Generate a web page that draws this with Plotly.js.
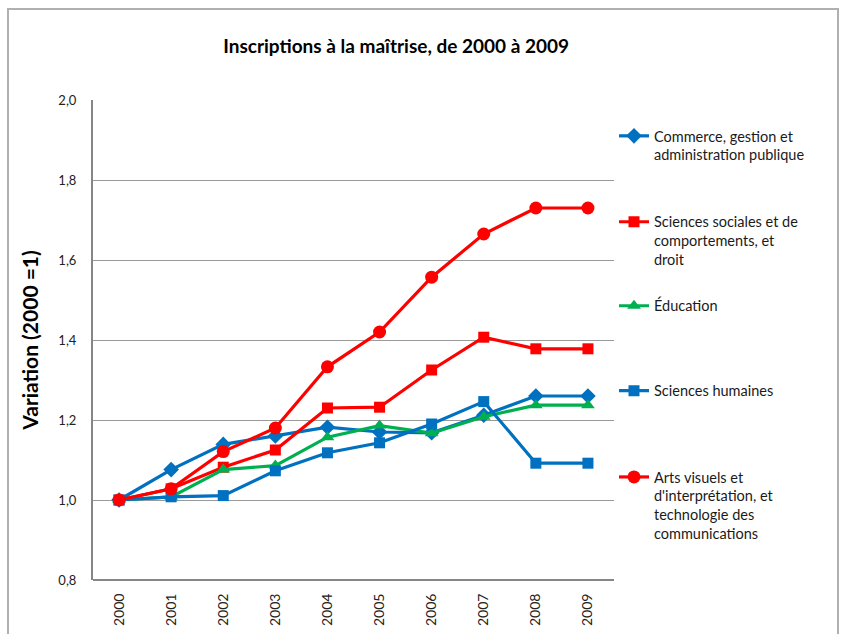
<!DOCTYPE html>
<html>
<head>
<meta charset="utf-8">
<script src="https://cdn.plot.ly/plotly-3.0.1.min.js"></script>
<style>html,body{margin:0;padding:0;background:#fff;}#chart{width:841px;height:634px;}</style>
</head>
<body>
<div id="chart"></div>
<script>
var years = ["2000","2001","2002","2003","2004","2005","2006","2007","2008","2009"];
var commerce = [1.000, 1.076, 1.139, 1.160, 1.182, 1.170, 1.168, 1.212, 1.260, 1.260];
var sociales = [1.000, 1.028, 1.082, 1.125, 1.230, 1.232, 1.325, 1.407, 1.378, 1.378];
var education = [1.000, 1.008, 1.076, 1.086, 1.157, 1.186, 1.167, 1.208, 1.237, 1.237];
var humaines = [1.000, 1.008, 1.011, 1.073, 1.118, 1.143, 1.190, 1.246, 1.092, 1.092];
var arts = [1.000, 1.028, 1.121, 1.180, 1.333, 1.420, 1.557, 1.665, 1.730, 1.730];
var names = [
  "Commerce, gestion et<br>administration publique",
  "Sciences sociales et de<br>comportements, et<br>droit",
  "Éducation",
  "Sciences humaines",
  "Arts visuels et<br>d'interprétation, et<br>technologie des<br>communications"
];
var yTicks = [0.8, 1.0, 1.2, 1.4, 1.6, 1.8, 2.0];
var yTickText = ["0,8", "1,0", "1,2", "1,4", "1,6", "1,8", "2,0"];

var blue = "#0070C0", red = "#FF0000", green = "#00B050";
function tr(y, name, color, symbol, size, leg) {
  return {x: years, y: y, name: name, type: "scatter", mode: "lines+markers",
    line: {color: color, width: 3.2}, marker: {symbol: symbol, size: size, color: color},
    legend: leg};
}
var data = [
  tr(commerce, names[0], blue, "diamond", 12, "legend"),
  tr(sociales, names[1], red, "square", 11, "legend2"),
  tr(education, names[2], green, "triangle-up", 12, "legend3"),
  tr(humaines, names[3], blue, "square", 11, "legend4"),
  tr(arts, names[4], red, "circle", 13, "legend5")
];
function leg(y) {
  return {x: 1.0, xanchor: "left", y: y + 0.0125, yanchor: "top", xref: "paper", yref: "paper",
    font: {family: "Lato, sans-serif", size: 14.5, color: "#1a1a1a"}, valign: "top",
    bgcolor: "rgba(0,0,0,0)", itemwidth: 30, tracegroupgap: 0};
}
var layout = {
  width: 841, height: 634,
  margin: {l: 93, r: 227, t: 100, b: 54},
  paper_bgcolor: "#fff", plot_bgcolor: "#fff",
  font: {family: "Lato, sans-serif", color: "#222"},
  title: {text: "<b>Inscriptions à la maîtrise, de 2000 à 2009</b>", x: 0.471, xref: "container",
    y: 0.927, yref: "container", yanchor: "middle",
    font: {family: "Lato, sans-serif", size: 19, color: "#000"}},
  xaxis: {type: "category", range: [-0.5, 9.5], tickangle: -90, showgrid: false, zeroline: false,
    showline: false, ticks: "outside", ticklen: 7, tickcolor: "rgba(0,0,0,0)",
    tickfont: {size: 14, color: "#222"}},
  yaxis: {range: [0.8, 2.0], tickvals: yTicks, ticktext: yTickText, showgrid: true,
    gridcolor: "#9a9a9a", gridwidth: 1, zeroline: false, showline: true,
    linecolor: "#868686", linewidth: 2, ticks: "outside", ticklen: 12, tickcolor: "rgba(0,0,0,0)",
    tickfont: {size: 13, color: "#222"},
    title: {text: "<b>Variation (2000 =1)</b>", font: {size: 21, color: "#000"}, standoff: 14}},
  showlegend: true,
  legend: leg(0.946), legend2: leg(0.767), legend3: leg(0.592), legend4: leg(0.415), legend5: leg(0.2354),
  shapes: [
    {type: "line", xref: "paper", yref: "paper", x0: 0, x1: 1, y0: 0, y1: 0,
      line: {color: "#868686", width: 2}},
    {type: "rect", xref: "paper", yref: "paper",
      x0: (8 - 93) / 521, x1: (838 - 93) / 521, y0: 1 + (100 - 700) / 480, y1: 1 + (100 - 9) / 480,
      line: {color: "#b0b0b0", width: 2}, fillcolor: "rgba(0,0,0,0)", layer: "below"}
  ]
};
Plotly.newPlot("chart", data, layout, {displayModeBar: false, staticPlot: true});
</script>
</body>
</html>
